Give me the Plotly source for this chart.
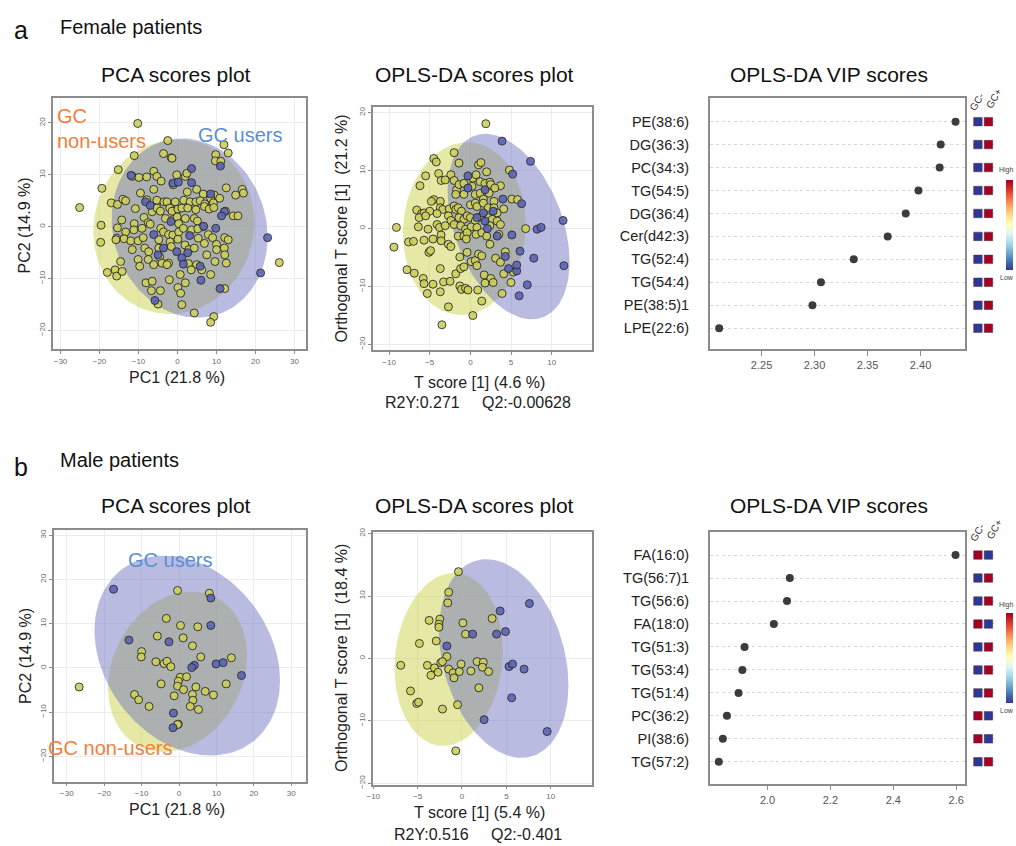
import numpy as np
import plotly.graph_objects as go

FONT = "Liberation Sans, Arial, sans-serif"
W, H = 1016, 846

# ---------------- DATA ----------------
# Female PCA scores (PC1, PC2)
f_pca_nonusers = [(-10.2,19.9),(-2.5,16.6),(11.9,15.8),(13.0,14.2),(-11.1,13.7),(-3.6,14.1),(-1.6,13.3),(-1.4,13.2),(9.8,13.9),(9.7,12.7),(11.1,12.6),(-15.2,11.0),(-11.6,9.7),(-9.9,9.5),(-7.9,9.6),(-6.1,10.7),(-5.3,9.7),(-4.2,8.8),(2.0,9.7),(2.4,10.3),(-0.2,10.0),(-19.4,7.4),(-9.5,6.5),(-6.1,7.2),(-1.1,8.1),(2.5,6.7),(4.9,7.2),(6.6,6.3),(9.4,6.1),(8.5,5.5),(12.5,7.5),(14.9,6.1),(16.6,7.2),(16.9,6.5),(-17.0,4.6),(-15.4,4.3),(-14.0,5.3),(-13.3,5.0),(-7.9,5.2),(-5.3,5.1),(-3.5,4.8),(-2.7,4.8),(-2.0,3.6),(-0.6,4.8),(1.6,5.1),(3.2,4.8),(4.7,4.8),(5.8,5.0),(7.0,4.4),(9.2,4.6),(10.8,5.5),(-10.8,3.5),(-8.6,1.8),(-6.5,2.9),(-5.3,3.6),(-4.4,3.0),(-1.4,3.0),(0.1,3.4),(1.1,3.6),(2.6,3.6),(4.7,3.3),(6.9,3.9),(8.1,3.4),(9.3,3.7),(12.3,3.0),(14.3,2.1),(15.5,2.1),(-25.1,3.7),(-14.3,1.3),(-11.1,0.6),(-7.5,0.8),(-7.0,0.5),(-4.3,-0.3),(-3.1,1.6),(-1.0,1.4),(-0.1,1.9),(0.3,0.6),(2.0,1.6),(4.3,1.6),(5.1,1.1),(6.4,0.0),(-19.6,0.3),(-15.4,-0.2),(-13.3,-1.0),(-11.2,-0.6),(-9.1,-0.3),(-3.6,-1.0),(-2.3,-1.5),(-1.2,-1.6),(0.3,-1.0),(1.5,-0.3),(3.6,-0.6),(5.2,-0.4),(7.9,-1.5),(9.0,-2.1),(12.1,-2.1),(13.0,-2.5),(-19.7,-3.0),(-15.6,-2.2),(-13.7,-2.3),(-12.0,-2.7),(-10.1,-2.7),(-8.8,-2.1),(-15.8,-2.5),(-4.8,-2.5),(-1.9,-2.9),(0.1,-2.4),(1.9,-3.5),(5.3,-2.2),(6.9,-3.2),(10.0,-3.4),(12.0,-4.1),(-11.6,-4.4),(-8.4,-4.1),(-7.4,-4.8),(-4.8,-4.1),(-1.6,-3.8),(2.9,-4.4),(4.3,-4.1),(7.5,-5.4),(10.0,-4.4),(12.1,-5.4),(-14.6,-6.7),(-10.1,-6.3),(-7.5,-6.3),(-4.6,-5.8),(-4.0,-7.0),(-2.3,-7.0),(2.8,-7.1),(4.9,-7.3),(6.2,-8.3),(9.6,-6.7),(12.5,-7.0),(26.1,-6.9),(-18.0,-8.8),(-16.0,-8.3),(-15.6,-9.5),(-14.2,-8.6),(-9.7,-7.6),(-6.1,-7.3),(-2.7,-7.3),(0.7,-9.2),(3.5,-8.3),(8.5,-9.2),(-8.1,-10.8),(-6.5,-10.5),(-2.1,-10.2),(2.0,-10.8),(-6.7,-12.3),(-4.4,-12.3),(0.1,-11.7),(0.8,-12.8),(12.1,-11.9),(-5.0,-14.9),(1.1,-15.0),(4.3,-16.6),(9.3,-17.3),(8.5,-18.4)]
f_pca_users = [(11.0,11.7),(-11.9,9.9),(-1.2,8.4),(0.2,8.6),(3.6,11.2),(3.6,8.5),(8.5,6.3),(-8.2,4.8),(-7.0,4.1),(12.0,2.9),(11.3,2.1),(-1.7,1.0),(9.8,-0.3),(6.7,0.1),(-6.1,-1.5),(3.1,-1.7),(23.1,-2.1),(-3.6,-4.1),(-0.2,-4.8),(2.6,-5.0),(-5.0,-5.4),(1.1,-6.0),(1.5,-7.2),(5.8,-7.6),(21.3,-8.9),(6.0,-10.3),(10.9,-11.9),(-5.8,-14.2)]

# Female OPLS-DA scores (T score, orthogonal T score)
f_opls_nonusers = [(1.9,18.1),(-4.5,12.1),(-4.2,11.5),(-2.0,13.1),(-1.4,11.3),(1.0,11.0),(1.3,11.4),(-5.5,9.1),(-3.9,9.5),(-2.4,9.3),(0.3,8.7),(0.7,9.3),(2.0,9.8),(4.8,10.1),(-6.2,7.4),(-3.6,8.3),(-3.1,8.4),(-2.0,8.3),(-1.7,6.7),(-1.4,7.6),(-0.8,7.8),(0.2,7.3),(1.2,8.1),(1.8,7.8),(2.4,8.0),(2.5,7.6),(3.7,7.4),(3.0,7.0),(-1.8,5.9),(-0.8,5.9),(0.6,5.9),(1.2,6.1),(2.3,6.1),(-4.5,5.0),(-3.7,4.7),(-4.8,4.7),(1.6,5.1),(2.9,4.7),(5.1,5.1),(5.8,5.0),(-6.6,3.2),(-6.0,2.6),(-5.7,2.7),(-5.0,3.0),(-3.7,3.6),(-3.4,3.3),(-2.6,3.4),(-2.0,3.9),(-1.8,3.3),(-1.5,3.6),(-1.1,3.0),(0.0,4.1),(0.6,4.4),(0.8,3.8),(1.6,4.4),(2.2,3.6),(2.9,3.6),(3.3,2.7),(4.1,3.4),(1.2,2.0),(2.2,1.9),(-6.3,1.9),(-5.5,2.2),(-4.1,2.6),(-2.7,2.2),(-2.4,1.4),(-1.4,1.9),(-0.8,1.6),(-0.4,2.2),(0.0,1.9),(0.6,1.3),(2.7,1.6),(3.3,1.3),(-9.1,0.2),(-6.4,0.3),(-5.2,-0.1),(-4.1,0.7),(-3.8,0.2),(-3.1,0.5),(-2.0,0.7),(-1.2,0.5),(-0.6,-0.1),(0.1,0.3),(0.8,0.2),(2.4,0.5),(3.7,0.7),(6.8,0.0),(-9.4,-3.2),(-7.6,-2.3),(-7.0,-2.2),(-5.7,-2.0),(-4.6,-1.8),(-3.6,-1.1),(-3.6,-2.1),(-2.7,-2.7),(-2.4,-3.1),(-1.5,-1.3),(-0.8,-1.3),(-0.4,-0.7),(-0.5,-1.8),(0.7,-1.0),(1.4,-0.7),(2.0,-1.3),(2.4,-2.7),(3.5,-1.0),(-5.1,-4.1),(-4.9,-3.8),(-1.3,-4.9),(-0.4,-4.1),(0.1,-5.7),(0.6,-5.5),(1.0,-4.4),(1.4,-4.7),(3.1,-5.1),(4.3,-4.0),(-7.8,-7.1),(-6.9,-7.7),(-3.7,-6.9),(-1.8,-7.8),(-1.2,-6.9),(-0.8,-6.6),(0.8,-6.4),(3.7,-5.8),(5.3,-7.5),(-5.8,-8.6),(-5.7,-9.5),(-4.6,-9.6),(-3.3,-9.2),(-2.5,-9.1),(-1.3,-9.9),(-1.1,-10.5),(-0.6,-10.3),(-0.3,-10.6),(1.7,-8.0),(2.5,-8.6),(2.8,-9.3),(4.1,-7.8),(1.8,-9.4),(5.0,-9.3),(-5.3,-11.2),(-3.7,-10.9),(0.9,-10.6),(3.9,-11.2),(1.4,-12.5),(-2.7,-13.5),(0.3,-15.0),(-3.5,-16.6)]
f_opls_users = [(3.9,15.1),(7.4,11.6),(-0.3,9.1),(5.2,9.4),(-0.3,7.0),(1.8,6.7),(4.0,5.1),(6.3,4.3),(2.8,3.0),(1.6,2.7),(0.8,1.9),(1.8,1.3),(2.1,0.0),(8.2,-0.1),(8.7,0.2),(11.4,1.4),(3.3,-1.3),(5.1,-1.1),(4.3,-4.8),(6.1,-3.9),(7.8,-5.1),(4.7,-6.9),(5.7,-7.3),(5.7,-6.3),(11.5,-6.4),(7.0,-9.7),(6.0,-11.6)]

# Male PCA scores
m_pca_nonusers = [(-0.4,17.5),(8.1,16.9),(-3.4,11.2),(0.4,9.6),(5.0,9.3),(-5.8,7.2),(1.1,6.8),(3.6,5.0),(-10.0,3.7),(-10.1,2.5),(-6.2,1.4),(-4.0,1.0),(-3.2,1.5),(-2.2,0.3),(5.8,2.5),(14.0,2.3),(-26.7,-4.3),(-4.8,-3.6),(0.3,-2.1),(2.0,-2.0),(-0.2,-3.0),(-0.4,-4.1),(1.2,-4.9),(4.5,-4.3),(12.6,-3.6),(-11.9,-6.0),(-10.8,-7.2),(-8.0,-8.7),(-1.3,-6.3),(3.6,-6.0),(3.7,-7.3),(3.0,-8.7),(5.2,-9.4),(7.0,-5.3),(9.2,-6.1),(-0.2,-12.7),(-0.4,-12.8)]
m_pca_users = [(-17.5,17.8),(8.5,15.8),(8.5,9.6),(-13.4,6.3),(-2.7,5.9),(4.1,0.6),(3.4,0.1),(9.9,0.9),(11.8,1.2),(16.7,-1.7),(-1.5,-10.2),(-1.6,-13.5)]

# Male OPLS-DA scores
m_opls_nonusers = [(-0.4,13.9),(-1.5,10.6),(-1.6,8.9),(-3.7,6.1),(-2.5,6.3),(-2.6,5.5),(-2.6,5.0),(0.1,5.7),(3.4,6.4),(0.4,3.9),(-4.8,2.4),(-2.9,2.8),(-1.7,0.3),(-6.9,-1.1),(-3.9,-1.1),(-3.1,-1.5),(-2.4,-0.7),(-2.2,-0.5),(-2.7,-2.2),(-3.5,-2.7),(-1.5,-1.7),(-1.0,-2.3),(-0.9,-3.1),(-0.3,-2.1),(-0.1,-0.9),(1.0,-2.0),(1.7,-0.5),(2.4,-0.6),(2.3,-1.4),(3.0,-2.1),(-5.8,-5.2),(-5.1,-7.2),(-4.9,-7.0),(-2.2,-8.1),(-0.5,-7.4),(1.9,-4.7),(-0.7,-14.8)]
m_opls_users = [(7.6,8.8),(4.3,7.6),(1.2,3.9),(3.9,3.9),(4.9,4.3),(-1.7,2.0),(5.3,-1.3),(5.7,-0.9),(7.0,-1.7),(5.6,-6.3),(2.5,-9.8),(9.6,-11.7)]

# Confidence ellipses: centre x, centre y, half-width, half-height, correlation
f_pca_nonusers_ell = [-0.95, 0.0, 20.65, 16.8, 0.05]
f_pca_users_ell = [3.1, -0.25, 20.0, 17.25, -0.1]
f_opls_nonusers_ell = [-0.75, 0.0, 7.55, 14.9, 0.05]
f_opls_users_ell = [4.7, 0.35, 7.5, 16.0, -0.38]
m_pca_nonusers_ell = [-0.4, -0.85, 18.6, 18.15, 0.2]
m_pca_users_ell = [2.2, 2.8, 24.8, 22.6, -0.25]
m_opls_nonusers_ell = [-1.5, -0.15, 6.1, 13.85, 0.1]
m_opls_users_ell = [4.7, 0.0, 7.3, 15.9, -0.27]

# VIP scores
f_vip_names = ["PE(38:6)", "DG(36:3)", "PC(34:3)", "TG(54:5)", "DG(36:4)",
               "Cer(d42:3)", "TG(52:4)", "TG(54:4)", "PE(38:5)1", "LPE(22:6)"]
f_vip_values = [2.433, 2.419, 2.418, 2.398, 2.386, 2.369, 2.337, 2.306, 2.298, 2.210]
f_heat_gc_minus = [0, 0, 0, 0, 0, 0, 0, 0, 0, 0]
f_heat_gc_plus = [1, 1, 1, 1, 1, 1, 1, 1, 1, 1]

m_vip_names = ["FA(16:0)", "TG(56:7)1", "TG(56:6)", "FA(18:0)", "TG(51:3)",
               "TG(53:4)", "TG(51:4)", "PC(36:2)", "PI(38:6)", "TG(57:2)"]
m_vip_values = [2.598, 2.071, 2.062, 2.020, 1.927, 1.920, 1.908, 1.871, 1.858, 1.845]
m_heat_gc_minus = [1, 0, 0, 1, 0, 0, 0, 1, 1, 0]
m_heat_gc_plus = [0, 1, 1, 0, 1, 1, 1, 0, 0, 1]

heat_columns = ["GC-", "GC+"]

# ---------------- HELPERS ----------------
def px(x):
    return x / W

def py(y):
    return 1 - y / H

def ellipse(p, n=160):
    cx, cy, rx, ry, rho = p
    t = np.linspace(0, 2 * np.pi, n)
    phi = np.arccos(rho)
    return cx + rx * np.cos(t), cy + ry * np.cos(t - phi)

YEL_FILL = "rgba(208,213,85,0.52)"
BLU_FILL = "rgba(108,114,190,0.48)"
YEL_PT = "#cdd05a"
BLU_PT = "#5a63b6"

fig = go.Figure()

def add_scores(n, nonusers, users, ell_non, ell_users):
    xa, ya = ("x" if n == 1 else f"x{n}"), ("y" if n == 1 else f"y{n}")
    ex, ey = ellipse(ell_non)
    fig.add_trace(go.Scatter(x=ex, y=ey, mode="lines", fill="toself", fillcolor=YEL_FILL,
                             line=dict(width=0), hoverinfo="skip", showlegend=False, xaxis=xa, yaxis=ya))
    ex, ey = ellipse(ell_users)
    fig.add_trace(go.Scatter(x=ex, y=ey, mode="lines", fill="toself", fillcolor=BLU_FILL,
                             line=dict(width=0), hoverinfo="skip", showlegend=False, xaxis=xa, yaxis=ya))
    for pts, col in ((nonusers, YEL_PT), (users, BLU_PT)):
        fig.add_trace(go.Scatter(x=[p[0] for p in pts], y=[p[1] for p in pts], mode="markers",
                                 marker=dict(size=8, color=col, opacity=0.9,
                                             line=dict(color="#2a2a2a", width=1)),
                                 showlegend=False, xaxis=xa, yaxis=ya))

add_scores(1, f_pca_nonusers, f_pca_users, f_pca_nonusers_ell, f_pca_users_ell)
add_scores(2, f_opls_nonusers, f_opls_users, f_opls_nonusers_ell, f_opls_users_ell)
add_scores(5, m_pca_nonusers, m_pca_users, m_pca_nonusers_ell, m_pca_users_ell)
add_scores(6, m_opls_nonusers, m_opls_users, m_opls_nonusers_ell, m_opls_users_ell)

def add_vip(nx, ny, nheat, names, values, gc_minus, gc_plus, cb_y):
    fig.add_trace(go.Scatter(x=values, y=names, mode="markers",
                             marker=dict(size=8, color="#3c3c3c"),
                             showlegend=False, xaxis=f"x{nx}", yaxis=f"y{ny}"))
    fig.add_trace(go.Scatter(
        x=[heat_columns[0]] * len(names) + [heat_columns[1]] * len(names),
        y=names + names, mode="markers",
        marker=dict(symbol="square", size=8.5, color=gc_minus + gc_plus,
                    colorscale="RdYlBu_r", cmin=0, cmax=1,
                    line=dict(color="#3a3a3a", width=0.5),
                    showscale=True,
                    colorbar=dict(x=px(1006), xanchor="left", y=py(cb_y), yanchor="middle",
                                  len=90, lenmode="pixels", thickness=7, thicknessmode="pixels",
                                  xpad=0, ypad=0, outlinewidth=0, showticklabels=False, ticks="")),
        showlegend=False, xaxis=f"x{nheat}", yaxis=f"y{ny}"))

add_vip(3, 3, 4, f_vip_names, f_vip_values, f_heat_gc_minus, f_heat_gc_plus, 222)
add_vip(7, 7, 8, m_vip_names, m_vip_values, m_heat_gc_minus, m_heat_gc_plus, 660)

# ---------------- AXES ----------------
def sc_axis(dom, rng, anchor, is_y=False, dtick=10):
    d = dict(domain=dom, range=rng, dtick=dtick, anchor=anchor,
             showgrid=True, gridcolor="#ececec", gridwidth=1, zeroline=False,
             showline=True, linecolor="#8c8c8c", linewidth=1.5, mirror=True,
             ticks="outside", ticklen=3, tickcolor="#8c8c8c",
             tickfont=dict(size=8, color="#6a6a6a", family=FONT))
    if is_y:
        d["tickangle"] = -90
    return d

layout = dict(width=W, height=H, margin=dict(l=0, r=0, t=0, b=0),
              paper_bgcolor="white", plot_bgcolor="white",
              font=dict(family=FONT, color="#222"))

# female PCA
layout["xaxis"] = sc_axis([px(47), px(302)], [-32, 33], "y")
layout["yaxis"] = sc_axis([py(348), py(94)], [-23.6, 24.8], "x", True)
# female OPLS
layout["xaxis2"] = sc_axis([px(369), px(589)], [-12, 14.9], "y2", dtick=5)
layout["yaxis2"] = sc_axis([py(349), py(103)], [-21, 21], "x2", True)
# male PCA
layout["xaxis5"] = sc_axis([px(48), px(302)], [-33.5, 34], "y5")
layout["yaxis5"] = sc_axis([py(785), py(531)], [-25.7, 31.1], "x5", True)
# male OPLS
layout["xaxis6"] = sc_axis([px(369), px(589)], [-10.05, 14.6], "y6", dtick=5)
layout["yaxis6"] = sc_axis([py(788), py(533)], [-20.2, 20.2], "x6", True)

def vip_x(dom, rng, tick0, dtick, fmt, anchor):
    return dict(domain=dom, range=rng, tick0=tick0, dtick=dtick, tickformat=fmt, anchor=anchor,
                showgrid=False, zeroline=False, showline=True, linecolor="#8c8c8c",
                linewidth=1.5, mirror=True, ticks="outside", ticklen=5, tickcolor="#8c8c8c",
                tickfont=dict(size=11, color="#555", family=FONT))

def vip_y(dom, names, rng, anchor):
    return dict(domain=dom, type="category", categoryorder="array", categoryarray=names,
                range=rng, anchor=anchor, showgrid=True, griddash="dot", gridcolor="#d6d6d6",
                gridwidth=1, zeroline=False, showline=True, linecolor="#8c8c8c", linewidth=1.5,
                mirror=True, ticks="", ticklabelstandoff=16,
                tickfont=dict(size=14.5, color="#222", family=FONT))

def heat_x(anchor):
    return dict(domain=[px(972.4), px(993.6)], type="category", categoryorder="array",
                categoryarray=heat_columns, range=[-0.5, 1.5], anchor=anchor, visible=False)

layout["xaxis3"] = vip_x([px(708), px(965)], [2.2012, 2.4422], 2.25, 0.05, ".2f", "y3")
layout["yaxis3"] = vip_y([py(348), py(94)], f_vip_names, [9.92, -1.03], "x3")
layout["xaxis4"] = heat_x("y3")
layout["xaxis7"] = vip_x([px(708), px(965)], [1.8165, 2.629], 2.0, 0.2, ".1f", "y7")
layout["yaxis7"] = vip_y([py(787), py(533)], m_vip_names, [9.95, -0.99], "x7")
layout["xaxis8"] = heat_x("y7")

fig.update_layout(**layout)

# ---------------- TEXT ----------------
def txt(x, y, s, size, color="#222", xanchor="center", angle=0):
    fig.add_annotation(x=px(x), y=py(y), xref="paper", yref="paper", text=s, showarrow=False,
                       font=dict(size=size, color=color, family=FONT),
                       xanchor=xanchor, yanchor="middle", textangle=angle, borderpad=0)

NB = "\u00a0"
ORANGE = "#f0803c"
LBLUE = "#5b8fd2"

# panel labels
txt(7, 25, "a", 25, "#111", "left")
txt(53, 22, "Female patients", 20, "#111", "left")
txt(7, 467, "b", 25, "#111", "left")
txt(53, 460, "Male patients", 20, "#111", "left")

for yt in (70, 506):
    txt(171, yt, "PCA scores plot", 21, "#111")
    txt(471, yt, "OPLS-DA scores plot", 21, "#111")
    txt(828, yt, "OPLS-DA VIP scores", 21, "#111")

# female axis titles
txt(19, 223, "PC2 (14.9 %)", 16, "#222", angle=-90)
txt(172, 376, "PC1 (21.8 %)", 16, "#222")
txt(338, 226, "Orthogonal" + NB + "T score [1]" + NB + " (21.2 %)", 16, "#222", angle=-90)
txt(476, 382, "T score [1] (4.6 %)", 16, "#222")
txt(475, 402, "R2Y:0.271" + NB * 5 + "Q2:-0.00628", 16, "#222")
# male axis titles
txt(19, 658, "PC2 (14.9 %)", 16, "#222", angle=-90)
txt(172, 813, "PC1 (21.8 %)", 16, "#222")
txt(338, 660, "Orthogonal" + NB + "T score [1]" + NB + " (18.4 %)", 16, "#222", angle=-90)
txt(476, 816, "T score [1] (5.4 %)", 16, "#222")
txt(475, 838, "R2Y:0.516" + NB * 5 + "Q2:-0.401", 16, "#222")

# group labels
txt(50, 112, "GC", 20, ORANGE, "left")
txt(50, 137, "non-users", 20, ORANGE, "left")
txt(192, 131, "GC users", 20, LBLUE, "left")
txt(122, 561, "GC users", 20, LBLUE, "left")
txt(41, 751, "GC non-users", 20, ORANGE, "left")

# heatmap column labels and colour key
for top, hi, lo in ((96, 167, 275), (531, 606, 713)):
    txt(977, top + 2, "GC-", 10, "#333", angle=-60)
    txt(994, top - 1, "GC+", 10, "#333", angle=-60)
    txt(998, hi, "High", 7, "#444", "left")
    txt(999, lo, "Low", 7, "#444", "left")

fig.write_html("out.html")
